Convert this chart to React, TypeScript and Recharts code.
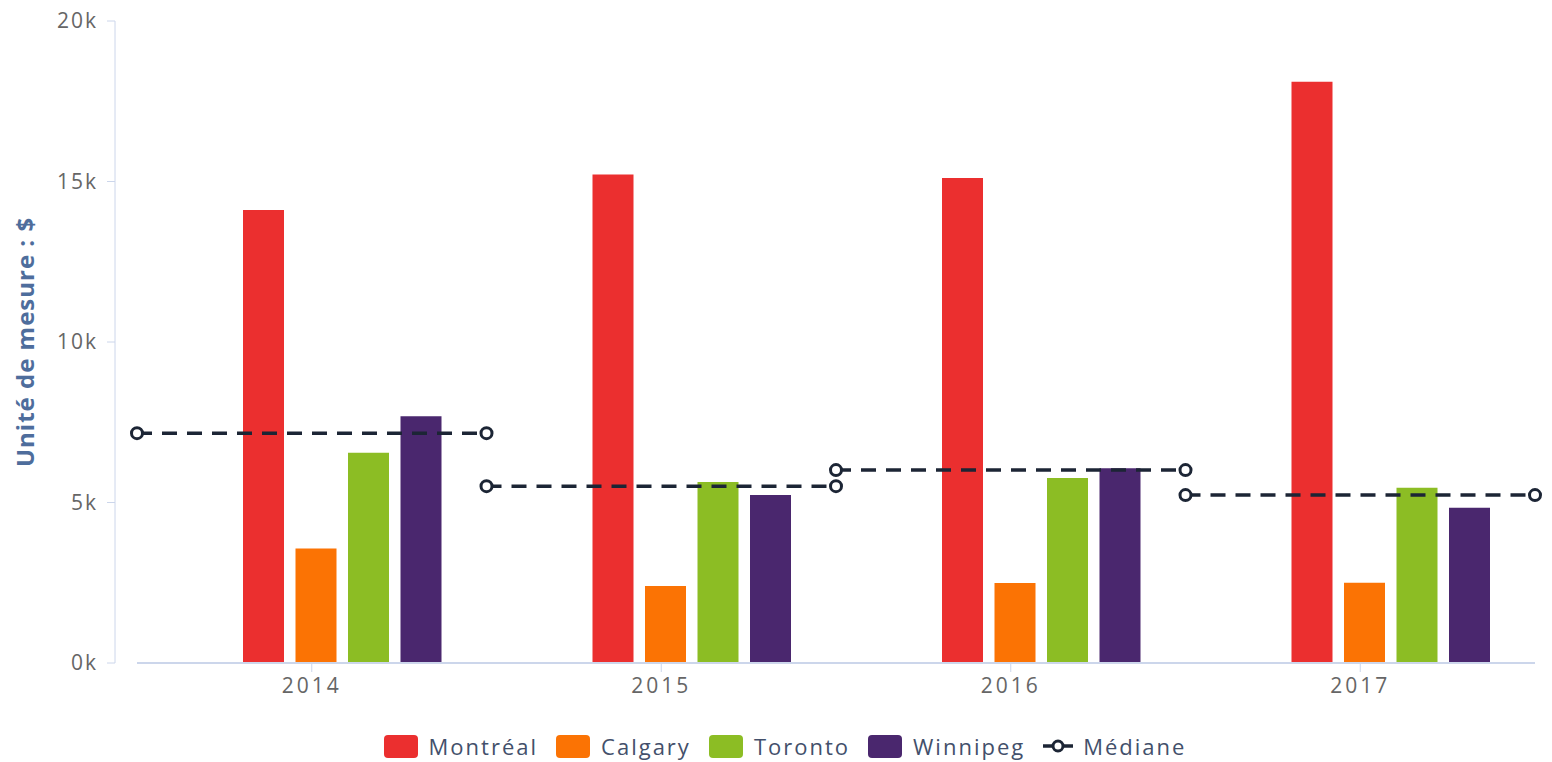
import {
  Bar,
  ComposedChart,
  Legend,
  Line,
  Rectangle,
  ReferenceLine,
  XAxis,
  YAxis,
} from "recharts";

const years = ["2014", "2015", "2016", "2017"];
const montreal = [14110, 15220, 15110, 18110];
const calgary = [3570, 2400, 2490, 2500];
const toronto = [6550, 5640, 5760, 5460];
const winnipeg = [7690, 5230, 6070, 4840];
const mediane = [7160, 5510, 6010, 5230];
const yTicks = [0, 5000, 10000, 15000, 20000];
const legendOrder = ["Montréal", "Calgary", "Toronto", "Winnipeg", "Médiane"];

const data = years.map((year, i) => ({
  year,
  montreal: montreal[i],
  calgary: calgary[i],
  toronto: toronto[i],
  winnipeg: winnipeg[i],
}));

// one flat segment per year, broken by a null point so they don't join
const medianData = mediane.flatMap((v, i) => [
  { x: i, y: v },
  { x: i + 1, y: v },
  { x: i + 1, y: null },
]);

const FONT = "'Open Sans', 'DejaVu Sans', sans-serif";
const AXIS = "#ccd6eb";
const DARK = "#1c2535";
const BAR_SHIFT = 30;

function ShiftedBar(props: any) {
  return <Rectangle {...props} x={props.x + BAR_SHIFT} />;
}

function LegendContent({ payload }: any) {
  const items = [...(payload || [])].sort(
    (a: any, b: any) => legendOrder.indexOf(a.value) - legendOrder.indexOf(b.value)
  );
  return (
    <div
      style={{
        display: "flex",
        justifyContent: "center",
        alignItems: "center",
        height: 32,
        paddingLeft: 36,
        fontFamily: FONT,
        fontSize: 22,
        letterSpacing: 2,
        color: "#43506b",
      }}
    >
      {items.map((e: any) => (
        <span
          key={e.value}
          style={{ display: "inline-flex", alignItems: "center", marginRight: 18 }}
        >
          {e.type === "line" ? (
            <svg width={30} height={16} style={{ marginRight: 10 }}>
              <line x1={0} y1={8} x2={30} y2={8} stroke={DARK} strokeWidth={3.5} />
              <circle cx={15} cy={8} r={5} fill="#fff" stroke={DARK} strokeWidth={3} />
            </svg>
          ) : (
            <span
              style={{
                display: "inline-block",
                width: 34,
                height: 23,
                borderRadius: 4,
                background: e.color,
                marginRight: 11,
              }}
            />
          )}
          {e.value}
        </span>
      ))}
    </div>
  );
}

export default function App() {
  return (
    <div style={{ position: "fixed", left: 0, top: 0, width: 1552, height: 762, background: "#fff" }}>
      <ComposedChart
        width={1552}
        height={762}
        data={data}
        barGap={11.5}
        margin={{ top: 21, right: 17, left: 0, bottom: 27 }}
      >
        <XAxis
          xAxisId="cat"
          dataKey="year"
          padding={{ left: 22, right: 0 }}
          axisLine={false}
          tickLine={{ stroke: AXIS }}
          tickSize={9}
          tickMargin={6}
          height={40}
          tick={{ fill: "#666", fontSize: 21, fontFamily: FONT, letterSpacing: 3 }}
        />
        <XAxis
          xAxisId="m"
          type="number"
          dataKey="x"
          domain={[0, 4]}
          padding={{ left: 22, right: 0 }}
          hide
        />
        <YAxis
          domain={[0, 20000]}
          ticks={yTicks}
          width={115}
          tickFormatter={(v: number) => `${v / 1000}k`}
          axisLine={{ stroke: AXIS }}
          tickLine={{ stroke: AXIS }}
          tickSize={8}
          tickMargin={9}
          tick={{ fill: "#666", fontSize: 21, fontFamily: FONT, letterSpacing: 2 }}
          label={{
            value: "Unité de mesure : $",
            angle: -90,
            position: "insideLeft",
            offset: 25,
            style: {
              textAnchor: "middle",
              fill: "#4e6d9c",
              fontWeight: "bold",
              fontSize: 24,
              letterSpacing: 1,
              fontFamily: FONT,
            },
          }}
        />
        <ReferenceLine
          xAxisId="m"
          segment={[{ x: 0, y: 0 }, { x: 4, y: 0 }]}
          stroke={AXIS}
          strokeWidth={2}
        />
        <Legend
          content={<LegendContent />}
          verticalAlign="bottom"
          wrapperStyle={{ left: 0, width: 1552, bottom: 0 }}
        />
        <Bar xAxisId="cat" dataKey="montreal" name="Montréal" fill="#eb2f2f" barSize={41} shape={<ShiftedBar />} isAnimationActive={false} />
        <Bar xAxisId="cat" dataKey="calgary" name="Calgary" fill="#fb7304" barSize={41} shape={<ShiftedBar />} isAnimationActive={false} />
        <Bar xAxisId="cat" dataKey="toronto" name="Toronto" fill="#8cbd24" barSize={41} shape={<ShiftedBar />} isAnimationActive={false} />
        <Bar xAxisId="cat" dataKey="winnipeg" name="Winnipeg" fill="#4a276e" barSize={41} shape={<ShiftedBar />} isAnimationActive={false} />
        <Line
          xAxisId="m"
          data={medianData}
          dataKey="y"
          name="Médiane"
          type="linear"
          stroke={DARK}
          strokeWidth={3.5}
          strokeDasharray="15 10"
          connectNulls={false}
          dot={{ r: 5.5, fill: "#fff", stroke: DARK, strokeWidth: 3, strokeDasharray: "0" }}
          activeDot={false}
          legendType="line"
          isAnimationActive={false}
        />
      </ComposedChart>
    </div>
  );
}
